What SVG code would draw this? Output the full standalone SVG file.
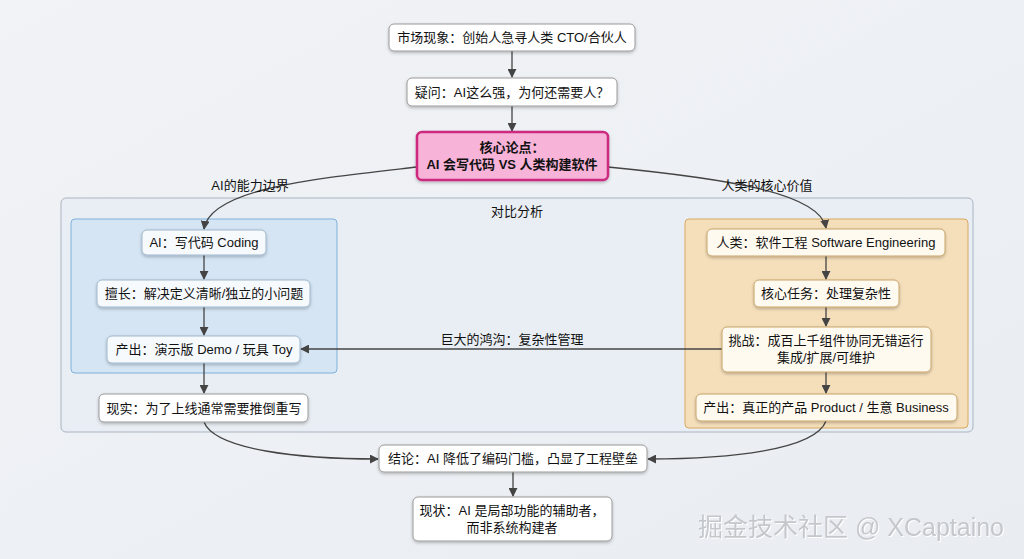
<svg xmlns="http://www.w3.org/2000/svg" width="1024" height="559" viewBox="0 0 1024 559">
<defs>
<linearGradient id="bg" x1="0" y1="0" x2="1" y2="1">
<stop offset="0" stop-color="#f1f3f6"/>
<stop offset="1" stop-color="#e9edf2"/>
</linearGradient>
<filter id="sh" x="-10%" y="-20%" width="120%" height="150%">
<feDropShadow dx="0" dy="1.5" stdDeviation="1.5" flood-color="#000" flood-opacity="0.25"/>
</filter>
<filter id="wm" x="-5%" y="-20%" width="110%" height="150%">
<feDropShadow dx="1" dy="1" stdDeviation="0.4" flood-color="#ffffff" flood-opacity="1"/>
</filter>
<marker id="ar" viewBox="0 0 10 10" refX="9" refY="5" markerWidth="9" markerHeight="9" markerUnits="userSpaceOnUse" orient="auto">
<path d="M0,0 L10,5 L0,10 z" fill="#444"/>
</marker>
<style>
text{font-family:"Liberation Sans","Noto Sans CJK SC",sans-serif;font-size:13px;fill:#111;}
.c{text-anchor:middle;}
.n{fill:#ffffff;stroke:#9a9a9a;stroke-width:1;filter:url(#sh);}
.nl{fill:#fffaf0;stroke:#c9a46a;stroke-width:1;filter:url(#sh);}
.nb{fill:#f6fafd;stroke:#9fb7cc;stroke-width:1;filter:url(#sh);}
.e{fill:none;stroke:#444;stroke-width:1.3;marker-end:url(#ar);}
.b{font-weight:bold;}
</style>
</defs>
<rect x="0" y="0" width="1024" height="559" fill="url(#bg)"/>

<g id="cluster-compare">
<rect x="61" y="198" width="912" height="234" rx="5" fill="#e9eef4" stroke="#a9b4c0" stroke-width="1"/>
<text x="517" y="216" class="c">对比分析</text>
</g>
<g id="cluster-ai">
<rect x="71" y="219" width="266" height="154" rx="4" fill="#d5e5f4" stroke="#7fb0dc" stroke-width="1"/>
</g>
<g id="cluster-human">
<rect x="685" y="219" width="283" height="209" rx="4" fill="#f5dfbb" stroke="#d8a860" stroke-width="1"/>
</g>

<g id="connectors">
<path class="e" d="M512,51 L512,77"/>
<path class="e" d="M512,106 L512,131"/>
<path class="e" d="M417,167 C320,178 210,188 204,229"/>
<path class="e" d="M608,167 C720,178 820,192 826,228"/>
<path class="e" d="M204,255 L204,279"/>
<path class="e" d="M204,307 L204,335"/>
<path class="e" d="M204,363 L204,393"/>
<path class="e" d="M826,256 L826,279"/>
<path class="e" d="M826,307 L826,326"/>
<path class="e" d="M826,372 L826,393"/>
<path class="e" d="M722,349 L301,349" style="stroke-width:1.6"/>
<path class="e" d="M204,422 C215,450 300,459 378,459"/>
<path class="e" d="M826,421 C815,450 730,459 648,459"/>
<path class="e" d="M513,472 L513,496"/>
<text x="250" y="190" class="c">AI的能力边界</text>
<text x="767" y="190" class="c">人类的核心价值</text>
<text x="512" y="344" class="c">巨大的鸿沟：复杂性管理</text>
</g>

<g id="n-market">
<rect class="n" x="389" y="24" width="246" height="27" rx="5"/>
<text x="512" y="42" class="c">市场现象：创始人急寻人类 CTO/合伙人</text>
</g>
<g id="n-question">
<rect class="n" x="407" y="78" width="210" height="28" rx="5"/>
<text x="512" y="97" class="c">疑问：AI这么强，为何还需要人？</text>
</g>
<g id="n-core">
<rect x="417" y="132" width="191" height="48" rx="5" fill="#f7b3d8" stroke="#cc2a7f" stroke-width="2.5" filter="url(#sh)"/>
<text x="512" y="152" class="c b">核心论点：</text>
<text x="512" y="169" class="c b">AI 会写代码 VS 人类构建软件</text>
</g>

<g id="n-ai-coding">
<rect class="nb" x="142" y="230" width="124" height="25" rx="5"/>
<text x="204" y="247" class="c">AI：写代码 Coding</text>
</g>
<g id="n-ai-good">
<rect class="nb" x="97" y="280" width="213" height="27" rx="5"/>
<text x="204" y="298" class="c">擅长：解决定义清晰/独立的小问题</text>
</g>
<g id="n-ai-out">
<rect class="nb" x="107" y="336" width="193" height="27" rx="5"/>
<text x="204" y="354" class="c">产出：演示版 Demo / 玩具 Toy</text>
</g>
<g id="n-reality">
<rect class="n" x="99" y="394" width="209" height="28" rx="5"/>
<text x="204" y="413" class="c">现实：为了上线通常需要推倒重写</text>
</g>

<g id="n-human">
<rect class="nl" x="707" y="229" width="238" height="27" rx="5"/>
<text x="826" y="247" class="c">人类：软件工程 Software Engineering</text>
</g>
<g id="n-task">
<rect class="nl" x="754" y="280" width="145" height="27" rx="5"/>
<text x="826" y="298" class="c">核心任务：处理复杂性</text>
</g>
<g id="n-challenge">
<rect class="nl" x="722" y="327" width="209" height="45" rx="5"/>
<text x="826" y="345" class="c">挑战：成百上千组件协同无错运行</text>
<text x="826" y="362" class="c">集成/扩展/可维护</text>
</g>
<g id="n-human-out">
<rect class="nl" x="696" y="394" width="261" height="27" rx="5"/>
<text x="826" y="412" class="c">产出：真正的产品 Product / 生意 Business</text>
</g>

<g id="n-conclusion">
<rect class="n" x="379" y="445" width="268" height="27" rx="5"/>
<text x="513" y="463" class="c">结论：AI 降低了编码门槛，凸显了工程壁垒</text>
</g>
<g id="n-status">
<rect class="n" x="413" y="497" width="199" height="44" rx="5"/>
<text x="512" y="515" class="c">现状：AI 是局部功能的辅助者，</text>
<text x="512" y="532" class="c">而非系统构建者</text>
</g>

<text x="851" y="536" class="c" style="font-size:25px;fill:#c4c7cc;" filter="url(#wm)">掘金技术社区 @ XCaptaino</text>
</svg>
